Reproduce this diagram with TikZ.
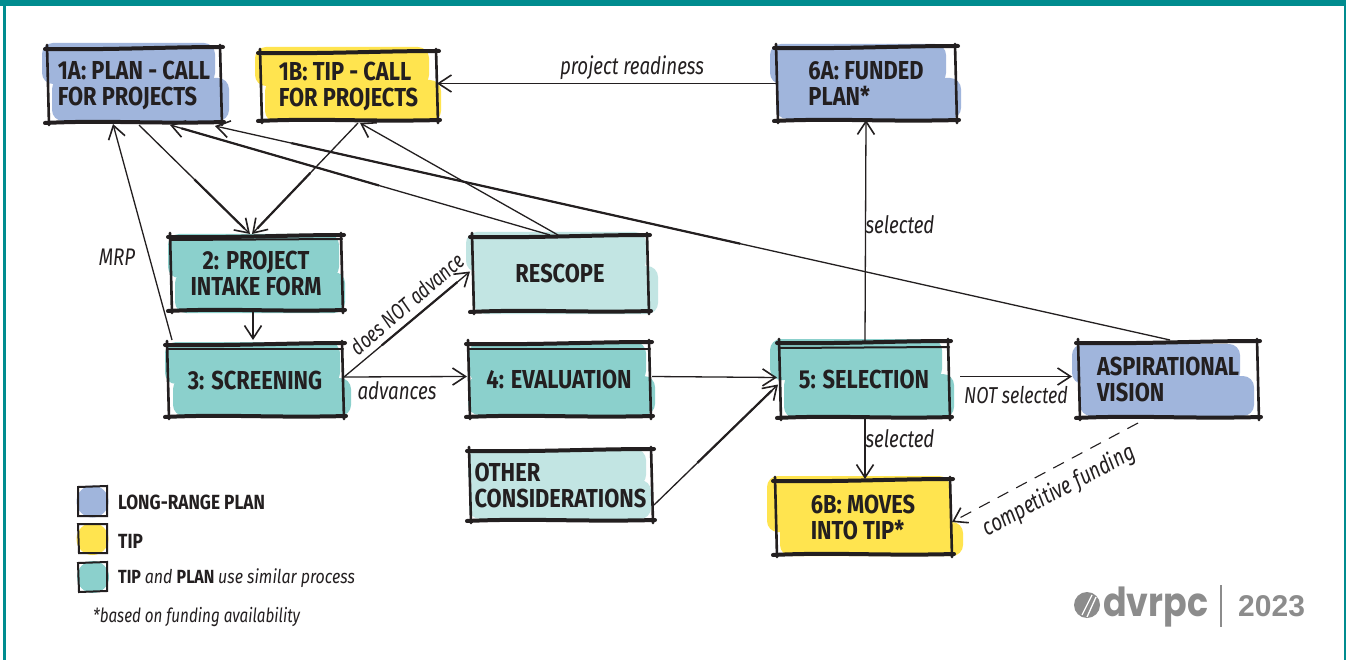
\documentclass[tikz,border=0pt]{standalone}
\usepackage{fontspec}
\usetikzlibrary{arrows.meta,calc}
\setmainfont{Fira Sans}
\newfontfamily\boxfont[FakeStretch=0.84]{Fira Sans}
\newfontfamily\edgefont[FakeStretch=0.78]{Fira Sans}
\newfontfamily\logofont[FakeStretch=0.87]{Poppins}
\newfontfamily\yearfont{Liberation Sans}
\definecolor{inkc}{HTML}{231F20}
\definecolor{framec}{HTML}{008C8F}
\definecolor{planc}{HTML}{A0B5DC}
\definecolor{tipc}{HTML}{FFE44F}
\definecolor{simc}{HTML}{8BD0CC}
\definecolor{lightc}{HTML}{C2E5E3}
\definecolor{logoc}{HTML}{8C8C8C}
\tikzset{
  x=1pt,y=-1pt,
  boxn/.style={inner sep=0pt,outer sep=0pt,text=inkc,align=left,
    font=\boxfont\fontsize{26}{26}\selectfont\bfseries},
  sketch/.style={draw=inkc,line width=4pt,line cap=round},
  sketchthin/.style={draw=inkc,line width=2pt,line cap=round},
  blobb/.style={rounded corners=11pt,draw=none},
  conn/.style={draw=inkc,line width=1.3pt,-{Straight Barb[length=13pt,width=17pt,line width=1.6pt]}},
  connthick/.style={draw=inkc,line width=2.2pt},
  edgelab/.style={inner sep=0pt,text=inkc,font=\edgefont\fontsize{24}{26}\selectfont\itshape},
  leglab/.style={inner sep=0pt,anchor=west,text=inkc,font=\boxfont\fontsize{20.5}{22}\selectfont},
}
% frame of a box: two heavy long sides, lighter short sides, all overshooting a little
\newcommand{\skframe}[1]{%
  \draw[sketch] ($(#1.north west)+(-2,1)$) .. controls ($(#1.north)+(-20,2)$) and ($(#1.north)+(30,-1)$) .. ($(#1.north east)+(2,-1)$);
  \draw[sketch] ($(#1.south west)+(-2,1)$) .. controls ($(#1.south)+(-30,-2)$) and ($(#1.south)+(20,2)$) .. ($(#1.south east)+(3,0)$);
  \draw[sketchthin,line width=2.6pt] ($(#1.north west)+(0,-3)$) -- ($(#1.south west)+(2,3)$);
  \draw[sketchthin,line width=2.6pt] ($(#1.north east)+(-1,-3)$) -- ($(#1.south east)+(1,3)$);
}
\begin{document}
\begin{tikzpicture}
\useasboundingbox (0,0) rectangle (1346,660);
\fill[white] (0,0) rectangle (1346,660);
% page frame
\fill[framec] (0,0) rectangle (1346,6);
\fill[framec] (3,0) rectangle (6,660);
\fill[framec] (1344,0) rectangle (1346,660);

% colour washes
\fill[planc,blobb] (42,43) rectangle (215,84);
\fill[planc,blobb] (52,78) rectangle (229,121);
\fill[tipc,blobb] (255,47) rectangle (429,86);
\fill[tipc,blobb] (265,80) rectangle (441,122);
\fill[planc,blobb] (770,44) rectangle (946,84);
\fill[planc,blobb] (776,78) rectangle (961,119);
\fill[simc,blobb] (168,234) rectangle (339,278);
\fill[simc,blobb] (175,272) rectangle (345,313);
\fill[lightc,blobb] (466,232) rectangle (646,272);
\fill[lightc,blobb] (474,266) rectangle (658,314);
\fill[simc,blobb] (165,342) rectangle (340,384);
\fill[simc,blobb] (173,378) rectangle (351,416);
\fill[simc,blobb] (469,342) rectangle (646,382);
\fill[simc,blobb] (468,376) rectangle (655,415);
\fill[simc,blobb] (770,339) rectangle (942,380);
\fill[simc,blobb] (784,374) rectangle (954,418);
\fill[planc,blobb] (1072,344) rectangle (1240,384);
\fill[planc,blobb] (1080,376) rectangle (1254,416);
\fill[lightc,blobb] (468,449) rectangle (646,486);
\fill[lightc,blobb] (469,480) rectangle (651,519);
\fill[tipc,blobb] (767,476) rectangle (950,532);
\fill[tipc,blobb] (780,522) rectangle (963,556);
\fill[planc] (92.5,501.5) circle [radius=16];
\fill[tipc] (92.5,539) circle [radius=16];
\fill[simc] (93,577) circle [radius=16];

% boxes
\node[boxn,minimum width=174pt,minimum height=74pt] (n1a) at (134,85) {1A: PLAN - CALL\\FOR PROJECTS};
\node[boxn,minimum width=177pt,minimum height=68pt] (n1b) at (348.5,86) {1B: TIP - CALL\\FOR PROJECTS};
\node[boxn,minimum width=180pt,minimum height=73pt] (n6a) at (866,83.5) {6A: FUNDED\\PLAN*};
\node[boxn,align=center,minimum width=172pt,minimum height=74pt] (n2) at (256,273) {2: PROJECT\\INTAKE FORM};
\node[boxn,minimum width=176pt,minimum height=75pt] (nre) at (560,273.5) {RESCOPE};
\node[boxn,minimum width=176pt,minimum height=72pt] (n3) at (255,380) {3: SCREENING};
\node[boxn,minimum width=182pt,minimum height=73pt] (n4) at (559,379.5) {4: EVALUATION};
\node[boxn,minimum width=170pt,minimum height=75pt] (n5) at (864,379.5) {5: SELECTION};
\node[boxn,minimum width=180pt,minimum height=75pt] (nas) at (1168,379.5) {ASPIRATIONAL\\VISION};
\node[boxn,minimum width=183pt,minimum height=70pt] (not) at (560.5,485) {OTHER\\CONSIDERATIONS};
\node[boxn,minimum width=176pt,minimum height=74pt] (n6b) at (863,517) {6B: MOVES\\INTO TIP*};
\foreach \b in {n1a,n1b,n6a,n2,nre,n3,n4,n5,nas,not,n6b} {\skframe{\b}}
% doubled top rules
\draw[sketch,line width=2pt] ($(n2.north west)+(0,4)$) -- ($(n2.north east)+(0,3)$);
\draw[sketch,line width=2pt] ($(n3.north west)+(0,5)$) -- ($(n3.north east)+(0,5)$);
\draw[sketch,line width=2pt] ($(n4.north west)+(0,6)$) -- ($(n4.north east)+(0,6)$);
\draw[sketch,line width=2pt] ($(n5.north west)+(0,6)$) -- ($(n5.north east)+(0,5)$);

% connector ends
\coordinate (a1a2) at ($(n1a.south west)+(92,3)$);
\coordinate (e1a2) at ($(n2.north west)+(80,-2)$);
\coordinate (a1b2) at ($(n1b.south west)+(98,3)$);
\coordinate (e1b2) at ($(n2.north west)+(82,-2)$);
\coordinate (a3re) at ($(n3.east)+(1,-3)$);
\coordinate (e3re) at ($(nre.west)+(-2,-2)$);
\coordinate (are1) at ($(nre.north west)+(78,-1)$);
\coordinate (ere1) at ($(n1a.south west)+(123,3)$);
\coordinate (aas1) at ($(nas.north west)+(92,-2)$);
\coordinate (eas1) at ($(n1a.south west)+(168,4)$);
\coordinate (aot5) at ($(not.south east)+(2,-15)$);
\coordinate (eot5) at ($(n5.west)+(-1,5)$);

% connectors
\draw[conn] (n6a.west) -- (n6a.west -| n1b.east) ;
\draw[conn] (a1a2) -- (e1a2);
\draw[conn] (a1b2) -- (e1b2);
\draw[conn] ($(n2.south west)+(83,1)$) -- ($(n3.north west)+(86,-4)$);
\draw[conn] ($(n3.north west)+(5,-4)$) -- ($(n1a.south west)+(66,2)$);
\draw[conn] (a3re) -- (e3re);
\draw[conn] ($(n3.east)+(1,-3)$) -- ($(n4.west)+(-1,-3)$);
\draw[conn] (are1) -- (ere1);
\draw[conn] ($(nre.north west)+(86,-1)$) -- ($(n1b.south west)+(100,3)$);
\draw[conn] (aas1) -- (eas1);
\draw[conn] ($(n5.north)+(1,0)$) -- ($(n6a.south west)+(90,0)$);
\draw[conn] ($(n5.south)+(1,0)$) -- ($(n6b.north west)+(90,-1)$);
\draw[conn] ($(n4.east)+(2,-3)$) -- ($(n5.west)+(-2,-2)$);
\draw[conn] (aot5) -- (eot5);
\draw[conn] ($(n5.east)+(11,-3)$) -- ($(nas.west)+(-6,-3)$);
\draw[conn,dashed,dash pattern=on 12pt off 9pt,line width=1.1pt] ($(nas.south west)+(60,6)$) -- ($(n6b.east)+(1,5)$);
% heavier stretches of the hand-drawn strokes
\draw[connthick] ($(aas1)!.45!(eas1)$) -- ($(aas1)!.92!(eas1)$);
\draw[connthick] ($(are1)!.45!(ere1)$) -- ($(are1)!.97!(ere1)$);
\draw[connthick] ($(a3re)!.3!(e3re)$) -- ($(a3re)!.9!(e3re)$);
\draw[connthick] ($(a1a2)!.5!(e1a2)$) -- ($(a1a2)!.95!(e1a2)$);
\draw[connthick] ($(a1b2)!.45!(e1b2)$) -- ($(a1b2)!.95!(e1b2)$);
\draw[connthick] ($(aot5)!.35!(eot5)$) -- ($(aot5)!.95!(eot5)$);

% connector labels
\node[edgelab] (lpr) at (632,68) {project readiness};
\node[edgelab] (lmr) at (117,257) {MRP};
\node[edgelab,rotate=41,font=\edgefont\fontsize{22}{24}\selectfont\itshape] (ldn) at (407,304) {does NOT advance};
\node[edgelab] (lad) at (397,391) {advances};
\node[edgelab] (lse) at (900,225) {selected};
\node[edgelab] (lsb) at (900,439) {selected};
\node[edgelab,font=\edgefont\fontsize{23}{26}\selectfont\itshape] (lno) at (1016,395) {NOT selected};
\node[edgelab,rotate=28] (lcf) at (1059,491) {competitive funding};

% legend
\draw[sketchthin] (78,487) -- (107,486) -- (107,516) -- (78,516) -- cycle;
\draw[sketchthin] (78,524) -- (107,524) -- (107,553) -- (79,553) -- cycle;
\draw[sketchthin] (78,563) -- (107,562) -- (107,591) -- (79,592) -- cycle;
\node[leglab] (k1) at (118,502) {\bfseries LONG-RANGE PLAN};
\node[leglab] (k2) at (118,541) {\bfseries TIP};
\node[leglab,font=\boxfont\fontsize{19}{22}\selectfont] (k3) at (118,578) {\bfseries TIP \mdseries\itshape and \upshape\bfseries PLAN \mdseries\itshape use similar process};
\node[leglab,font=\edgefont\fontsize{19.5}{22}\selectfont\itshape] (k4) at (93,617) {*based on funding availability};

% logo
\fill[logoc] (1087,605) circle [radius=13];
\draw[white,line width=1.3pt] (1082,615) -- (1092,595);
\draw[white,line width=1.3pt] (1087,617) -- (1096,597);
\node[inner sep=0pt,anchor=base west,text=logoc,font=\logofont\fontsize{40}{44}\selectfont\bfseries] (lg) at (1103,616) {dvrpc};
\draw[logoc,line width=1.4pt] (1221,585) -- (1221,627);
\node[inner sep=0pt,anchor=base west,text=logoc,font=\yearfont\fontsize{30}{32}\selectfont\bfseries] (yr) at (1238,616) {2023};
\end{tikzpicture}
\end{document}
